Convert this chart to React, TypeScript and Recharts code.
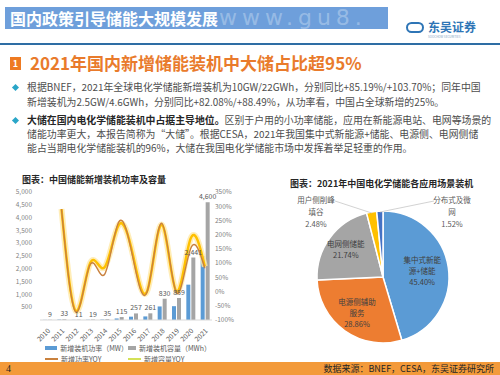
import React from 'react';
import {
  ComposedChart,
  Bar,
  Line,
  XAxis,
  YAxis,
  LabelList,
  PieChart,
  Pie,
  Cell,
} from 'recharts';

const years = ['2010', '2011', '2012', '2013', '2014', '2015', '2016', '2017', '2018', '2019', '2020', '2021'];
const powerMW = [5, 18, 6, 10, 20, 60, 130, 140, 530, 540, 1380, 2500];
const capacityMWh = [9, 33, 11, 19, 35, 115, 257, 261, 830, 859, 2441, 4600];
const powerYoy = [null, 290, -72, 95, 60, 245, 115, 3, 240, -2, 150, 82];
const capacityYoy = [null, 290, -68, 100, 85, 235, 125, 5, 235, 2, 185, 88];

const leftTicks = [0, 500, 1000, 1500, 2000, 2500, 3000, 3500, 4000, 4500, 5000];
const rightTicks = [-100, -50, 0, 50, 100, 150, 200, 250, 300, 350];

const sceneNames = ['集中式新能源+储能', '电源侧辅助服务', '电网侧储能', '用户侧削峰填谷', '分布式及微网'];
const sceneShares = [45.4, 28.86, 21.74, 2.48, 1.52];
const sceneColors = ['#5B9BD5', '#ED7D31', '#A5A5A5', '#FFC000', '#4472C4'];
const sceneLabelLines = [
  ['集中式新能', '源+储能'],
  ['电源侧辅助', '服务'],
  ['电网侧储能'],
  ['用户侧削峰', '填谷'],
  ['分布式及微', '网'],
];

const barData = years.map((y, i) => ({
  year: y,
  power: powerMW[i],
  cap: capacityMWh[i],
  powYoy: powerYoy[i],
  capYoy: capacityYoy[i],
}));

const pieData = sceneNames.map((n, i) => ({ name: n, value: sceneShares[i] }));

const FONT = "'Noto Sans CJK SC', 'Noto Sans', sans-serif";
const RADIAN = Math.PI / 180;

const fmt = (v: number) => v.toLocaleString('en-US');

function PieLabel(props: any) {
  const { cx, cy, midAngle, outerRadius, index, value } = props;
  const lines = [...sceneLabelLines[index], value.toFixed(2) + '%'];
  const cos = Math.cos(-midAngle * RADIAN);
  const sin = Math.sin(-midAngle * RADIAN);
  if (index < 3) {
    const k = [0.6, 0.68, 0.7][index];
    const x = cx + outerRadius * k * cos;
    const y = cy + outerRadius * k * sin;
    const start = y - ((lines.length - 1) * 11) / 2;
    return (
      <text x={x} y={start} textAnchor="middle" fontSize={7.5} fill="#404040" fontFamily={FONT}>
        {lines.map((l, j) => (
          <tspan key={j} x={x} y={start + j * 11} dy="0.35em">
            {l}
          </tspan>
        ))}
      </text>
    );
  }
  // small slices: text outside with leader line
  const ex = cx + outerRadius * cos;
  const ey = cy + outerRadius * sin;
  const left = index === 3;
  const tx = left ? cx - 67 : cx + 69;
  const ty = cy - 77;
  const lx = left ? cx - 48 : cx + 51;
  return (
    <g>
      <line x1={ex} y1={ey + 1} x2={lx} y2={ty + 1} stroke="#BFBFBF" strokeWidth={0.7} />
      <text x={tx} y={ty} textAnchor="middle" fontSize={7.5} fill="#595959" fontFamily={FONT}>
        {lines.map((l, j) => (
          <tspan key={j} x={tx} y={ty + j * 12} dy="0.35em">
            {l}
          </tspan>
        ))}
      </text>
    </g>
  );
}

const LeftTick = (props: any) => {
  const { x, y, payload } = props;
  if (payload.value === 0) return null;
  return (
    <text x={x} y={y} dy="0.35em" textAnchor="end" fontSize={6.5} fill="#7F7F7F" fontFamily={FONT}>
      {fmt(payload.value)}
    </text>
  );
};

const LegendItem = ({ color, line, text }: { color: string; line?: boolean; text: string }) => (
  <div style={{ display: 'flex', alignItems: 'center', width: 83 }}>
    <div style={{ width: 13, height: line ? 1.5 : 4, background: color, marginRight: 3 }} />
    <span style={{ fontSize: 7, color: '#595959', whiteSpace: 'nowrap' }}>{text}</span>
  </div>
);

export default function App() {
  return (
    <div
      style={{
        position: 'absolute',
        left: 0,
        top: 0,
        width: 500,
        height: 375,
        background: '#fff',
        overflow: 'hidden',
        fontFamily: FONT,
      }}
    >
      {/* header bar */}
      <div
        style={{
          position: 'absolute',
          left: 5,
          top: 7,
          width: 383,
          height: 22,
          background: '#6E9FDB',
          overflow: 'hidden',
        }}
      >
        <div
          style={{
            position: 'absolute',
            left: 214,
            top: 0,
            fontSize: 22,
            lineHeight: '22px',
            letterSpacing: 5,
            fontFamily: "'DejaVu Sans', sans-serif",
            color: 'rgba(255,255,255,0.3)',
            whiteSpace: 'nowrap',
          }}
        >
          www.gu8.
        </div>
        <div
          style={{
            position: 'absolute',
            left: 5,
            top: 2,
            fontSize: 16,
            lineHeight: '18px',
            fontWeight: 700,
            color: '#fff',
            whiteSpace: 'nowrap',
          }}
        >
          国内政策引导储能大规模发展
        </div>
      </div>
      {/* logo */}
      <div style={{ position: 'absolute', left: 406, top: 22, width: 18, height: 11, borderRadius: 6, border: '2px solid #2E75B6', boxSizing: 'border-box' }} />
      <div
        style={{
          position: 'absolute',
          left: 428,
          top: 20,
          fontSize: 12,
          lineHeight: '14px',
          fontWeight: 700,
          color: '#2E75B6',
          whiteSpace: 'nowrap',
        }}
      >
        东吴证券
      </div>
      <div style={{ position: 'absolute', left: 428, top: 35, fontSize: 3, lineHeight: '4px', color: '#7F9FBF', whiteSpace: 'nowrap' }}>
        SOOCHOW SECURITIES
      </div>
      <div style={{ position: 'absolute', left: 0, top: 43, width: 500, height: 2, background: '#2E6DA4' }} />

      {/* section heading */}
      <div
        style={{
          position: 'absolute',
          left: 10,
          top: 57,
          width: 11,
          height: 13,
          background: '#EE7A22',
          color: '#fff',
          fontSize: 9,
          lineHeight: '13px',
          textAlign: 'center',
          fontWeight: 700,
        }}
      >
        1
      </div>
      <div
        style={{
          position: 'absolute',
          left: 30,
          top: 54,
          fontSize: 17,
          lineHeight: '18px',
          fontWeight: 700,
          color: '#E97B2C',
          whiteSpace: 'nowrap',
        }}
      >
        2021年国内新增储能装机中大储占比超95%
      </div>

      {/* bullets */}
      {[87, 120].map((y) => (
        <div
          key={y}
          style={{
            position: 'absolute',
            left: 13,
            top: y - 2.5,
            width: 5,
            height: 5,
            background: '#2AA6C8',
            transform: 'rotate(45deg)',
          }}
        />
      ))}
      <div
        style={{
          position: 'absolute',
          left: 27,
          top: 80,
          fontSize: 9.9,
          lineHeight: '15px',
          color: '#4D4D4D',
          whiteSpace: 'nowrap',
        }}
      >
        <div>根据BNEF，2021年全球电化学储能新增装机为10GW/22GWh，分别同比+85.19%/+103.70%；同年中国</div>
        <div>新增装机为2.5GW/4.6GWh，分别同比+82.08%/+88.49%，从功率看，中国占全球新增的25%。</div>
      </div>
      <div
        style={{
          position: 'absolute',
          left: 27,
          top: 113,
          fontSize: 9.9,
          lineHeight: '14px',
          color: '#4D4D4D',
          whiteSpace: 'nowrap',
        }}
      >
        <div>
          <b style={{ color: '#262626' }}>大储在国内电化学储能装机中占据主导地位。</b>区别于户用的小功率储能，应用在新能源电站、电网等场景的
        </div>
        <div>储能功率更大，本报告简称为“大储”。根据CESA，2021年我国集中式新能源+储能、电源侧、电网侧储</div>
        <div>能占当期电化学储能装机的96%，大储在我国电化学储能市场中发挥着举足轻重的作用。</div>
      </div>

      {/* chart titles */}
      <div style={{ position: 'absolute', left: 22, top: 175, fontSize: 9, lineHeight: '10px', fontWeight: 700, color: '#262626', whiteSpace: 'nowrap' }}>
        图表：中国储能新增装机功率及容量
      </div>
      <div style={{ position: 'absolute', left: 290, top: 178, fontSize: 9, lineHeight: '11px', fontWeight: 700, color: '#262626', whiteSpace: 'nowrap' }}>
        图表：2021年中国电化学储能各应用场景装机
      </div>

      {/* bar + line chart */}
      <div style={{ position: 'absolute', left: 0, top: 175 }}>
        <ComposedChart
          width={245}
          height={172}
          data={barData}
          margin={{ top: 17, right: 5, left: 0, bottom: 0 }}
          barSize={4}
          barGap={1}
        >
          <XAxis
            dataKey="year"
            height={27}
            interval={0}
            tickLine={false}
            axisLine={{ stroke: '#D9D9D9' }}
            tick={{ fontSize: 6.8, fill: '#595959', fontFamily: FONT }}
            angle={-45}
            textAnchor="end"
            tickMargin={2}
          />
          <YAxis
            yAxisId="left"
            domain={[0, 5000]}
            ticks={leftTicks}
            interval={0}
            width={40}
            tickLine={false}
            axisLine={false}
            tickSize={0}
            tickMargin={8}
            tick={<LeftTick />}
          />
          <YAxis
            yAxisId="right"
            orientation="right"
            domain={[-100, 350]}
            ticks={rightTicks}
            interval={0}
            width={28}
            tickLine={false}
            axisLine={false}
            tickSize={0}
            tickMargin={3}
            tick={{ fontSize: 6.5, fill: '#7F7F7F', fontFamily: FONT }}
            tickFormatter={(v: number) => `${v}%`}
          />
          <Bar yAxisId="left" dataKey="power" fill="#5B9BD5" isAnimationActive={false} />
          <Bar yAxisId="left" dataKey="cap" fill="#A5A5A5" isAnimationActive={false}>
            <LabelList
              dataKey="cap"
              position="top"
              offset={3}
              formatter={(v: any) => fmt(Number(v))}
              style={{ fontSize: 7, fill: '#595959', fontFamily: FONT }}
            />
          </Bar>
          <Line
            yAxisId="right"
            type="natural"
            dataKey="capYoy"
            stroke="#FFE9A6"
            strokeWidth={6}
            strokeOpacity={0.8}
            dot={false}
            isAnimationActive={false}
          />
          <Line
            yAxisId="right"
            type="natural"
            dataKey="capYoy"
            stroke="#FFC000"
            strokeWidth={2.5}
            dot={false}
            isAnimationActive={false}
          />
          <Line
            yAxisId="right"
            type="natural"
            dataKey="powYoy"
            stroke="#C9813E"
            strokeWidth={1.4}
            dot={false}
            isAnimationActive={false}
          />
        </ComposedChart>
      </div>

      {/* legend */}
      <div style={{ position: 'absolute', left: 45, top: 343, display: 'flex' }}>
        <LegendItem color="#5B9BD5" text="新增装机功率（MW）" />
        <LegendItem color="#A5A5A5" text="新增装机容量（MWh）" />
      </div>
      <div style={{ position: 'absolute', left: 45, top: 354, display: 'flex' }}>
        <LegendItem color="#C9813E" line text="新增功率YOY" />
        <LegendItem color="#D4E157" line text="新增容量YOY" />
      </div>

      {/* pie chart */}
      <div style={{ position: 'absolute', left: 250, top: 190 }}>
        <PieChart width={250} height={170} margin={{ top: 0, right: 0, bottom: 0, left: 0 }}>
          <Pie
            data={pieData}
            dataKey="value"
            nameKey="name"
            cx={133}
            cy={87}
            outerRadius={66}
            startAngle={90}
            endAngle={-270}
            stroke="#fff"
            strokeWidth={1.5}
            label={PieLabel}
            labelLine={false}
            isAnimationActive={false}
          >
            {pieData.map((d, i) => (
              <Cell key={d.name} fill={sceneColors[i]} />
            ))}
          </Pie>
        </PieChart>
      </div>

      {/* footer */}
      <div style={{ position: 'absolute', left: 0, top: 362, width: 500, height: 13, background: '#F39A3A' }} />
      <div style={{ position: 'absolute', left: 6, top: 362, fontSize: 10, lineHeight: '13px', color: '#262626', fontFamily: "'Liberation Serif', serif" }}>
        4
      </div>
      <div
        style={{
          position: 'absolute',
          right: 6,
          top: 362,
          fontSize: 9,
          lineHeight: '13px',
          color: '#262626',
          whiteSpace: 'nowrap',
        }}
      >
        数据来源：BNEF，CESA，东吴证券研究所
      </div>
    </div>
  );
}
